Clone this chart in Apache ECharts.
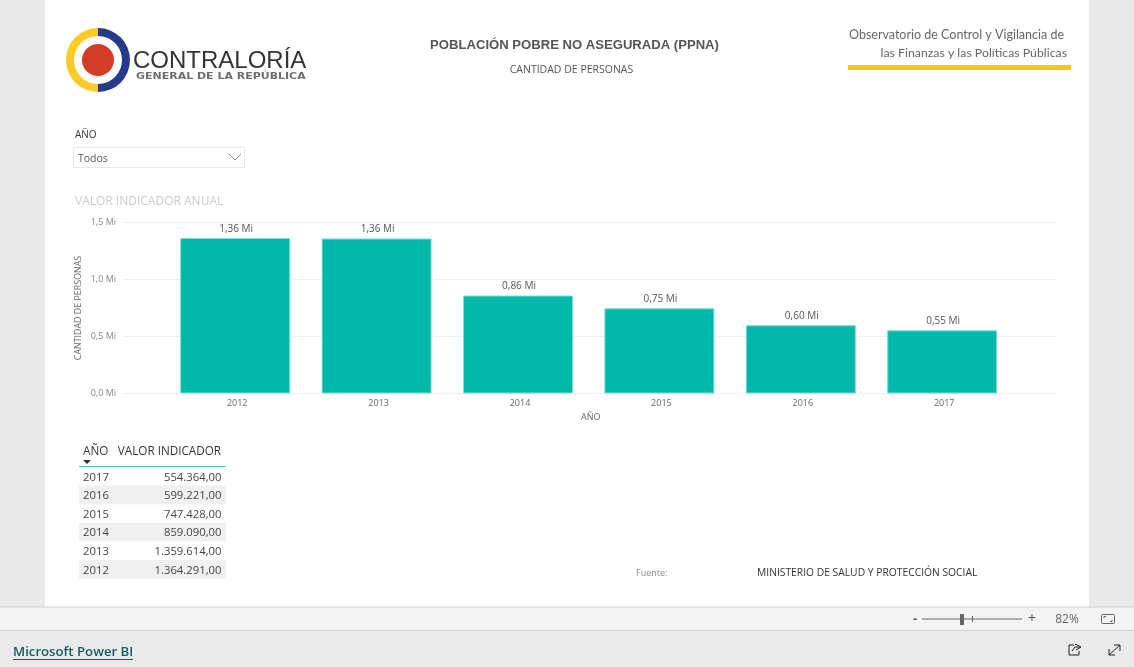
<!DOCTYPE html>
<html><head><meta charset="utf-8">
<style>html,body{margin:0;padding:0;background:#fff;overflow:hidden}#c{width:1134px;height:667px}</style>
<script src="https://cdn.jsdelivr.net/npm/echarts@6/dist/echarts.min.js"></script>
</head><body><div id="c"></div>
<script>
const years = ['2012','2013','2014','2015','2016','2017'];
const values = [1364291, 1359614, 859090, 747428, 599221, 554364];
const barLabels = ['1,36 Mi','1,36 Mi','0,86 Mi','0,75 Mi','0,60 Mi','0,55 Mi'];
const tableYears = ['2017','2016','2015','2014','2013','2012'];
const tableValues = ['554.364,00','599.221,00','747.428,00','859.090,00','1.359.614,00','1.364.291,00'];
const yTicks = {0:'0,0 Mi',500000:'0,5 Mi',1000000:'1,0 Mi',1500000:'1,5 Mi'};
const F = '"Open Sans","Noto Sans",sans-serif';

function T(x,y,text,size,fill,opt){
  return {type:'text',silent:true,x:x,y:y,z:5,style:Object.assign({text:text,font:size+'px '+F,fill:fill,textAlign:'left',textVerticalAlign:'middle'},opt||{})};
}
function R(x,y,w,h,fill,z){
  return {type:'rect',silent:true,z:z===undefined?1:z,shape:{x:x,y:y,width:w,height:h},style:{fill:fill}};
}
function P(points,color){
  return {type:'polyline',silent:true,z:3,shape:{points:points},style:{stroke:color,fill:'none',lineWidth:1}};
}
const g = [];
// page chrome
g.push(R(0,0,45,607,'#e9e9e9'), R(1089,0,45,607,'#e9e9e9'));
g.push(R(0,607,1134,23,'#f3f3f3'), R(0,606.5,1134,1,'#d2d2d2'), R(0,630,1134,37,'#eaeaea'), R(0,630,1134,1,'#cfcfcf'));
// logo
const cx=98, cy=60;
g.push({type:'sector',silent:true,z:2,shape:{cx:cx,cy:cy,r:32,r0:24,startAngle:Math.PI/2,endAngle:Math.PI*1.5},style:{fill:'#fdcb25'}});
g.push({type:'sector',silent:true,z:2,shape:{cx:cx,cy:cy,r:32,r0:24,startAngle:-Math.PI/2,endAngle:Math.PI/2},style:{fill:'#27398c'}});
g.push({type:'circle',silent:true,z:2,shape:{cx:cx,cy:cy,r:16},style:{fill:'#d33d27'}});
g.push(T(133,61,'CONTRALORÍA',24,'#333333',{font:'24px "Liberation Sans",sans-serif'}));
const sub = T(136,77,'GENERAL DE LA REPÚBLICA',9,'#6e6e6e',{font:'bold 9px "DejaVu Sans",sans-serif'});
sub.scaleX = 1.22;
g.push(sub);
// titles
g.push(T(574.5,45,'POBLACIÓN POBRE NO ASEGURADA (PPNA)',13,'#555555',{font:'bold 13.1px "Liberation Sans",sans-serif',textAlign:'center'}));
g.push(T(571.5,70,'CANTIDAD DE PERSONAS',10.5,'#555555',{textAlign:'center'}));
g.push(T(1064,35,'Observatorio de Control y Vigilancia de',12.5,'#666666',{font:'12.5px Lato,sans-serif',textAlign:'right'}));
g.push(T(1067,53,'las Finanzas y las Políticas Públicas',12.3,'#666666',{font:'12.3px Lato,sans-serif',textAlign:'right'}));
g.push(R(848,65,223,5,'#f2c811'));
// slicer
g.push(T(75,135,'AÑO',10,'#333333'));
g.push({type:'rect',silent:true,z:2,shape:{x:73.5,y:147.5,width:171,height:20},style:{fill:'#fff',stroke:'#e8e8e8',lineWidth:1}});
g.push(T(78,159,'Todos',10.5,'#555555'));
g.push(P([[229,154],[235,160],[241,154]],'#8a8a8a'));
g.push(T(75,202,'VALOR INDICADOR ANUAL',12,'#c8ccd0'));
// table
g.push(T(83,452,'AÑO',11.7,'#333333'));
g.push(T(221,452,'VALOR INDICADOR',11.7,'#333333',{textAlign:'right'}));
g.push({type:'polygon',silent:true,z:3,shape:{points:[[83,460],[91,460],[87,464]]},style:{fill:'#333333'}});
g.push(R(79,466,147,1,'#5cc4b8',3));
tableYears.forEach((y,i)=>{
  const top=467+i*18.6;
  if(i%2===1) g.push(R(79,top,147,18.6,'#f0f0f0',2));
  g.push(T(83,top+10.3,y,11.3,'#444444'));
  g.push(T(221.5,top+10.3,tableValues[i],11.3,'#444444',{textAlign:'right'}));
});
// source
g.push(T(636,573,'Fuente:',9,'#888888'));
g.push(T(757,573,'MINISTERIO DE SALUD Y PROTECCIÓN SOCIAL',10.3,'#333333'));
// status bar
g.push(T(915,619,'-',13,'#555555',{textAlign:'center',font:'bold 13px '+F}));
g.push(R(922,618.5,100,1,'#666666',3), R(960,614,4,11,'#666666',3), R(972,616,1,6,'#666666',3));
g.push(T(1032,619,'+',14,'#555555',{textAlign:'center'}));
g.push(T(1067,619.5,'82%',12,'#666666',{textAlign:'center'}));
g.push({type:'rect',silent:true,z:3,shape:{x:1101.5,y:614.5,width:13,height:9,r:1},style:{fill:'none',stroke:'#666666',lineWidth:1}});
g.push(P([[1104,618],[1104,616.5],[1106,616.5]],'#666666'), P([[1112,620],[1112,621.5],[1110,621.5]],'#666666'));
// footer
g.push(T(13,652,'Microsoft Power BI',13.2,'#0d5f63',{font:'600 13.2px '+F}));
g.push(R(13,659,120,1,'#0d5f63',3));
g.push(P([[1074,645],[1069,645],[1069,655],[1079,655],[1079,651]],'#222'));
g.push(P([[1072,651],[1075,647],[1080,647]],'#222'));
g.push(P([[1075,644],[1081,647],[1076,650]],'#222'));
g.push({type:'line',silent:true,z:3,shape:{x1:1109,y1:655,x2:1120,y2:645},style:{stroke:'#222',lineWidth:1}});
g.push(P([[1114,645],[1120,645],[1120,651]],'#222'));
g.push(P([[1109,649],[1109,655],[1115,655]],'#222'));

const chart = echarts.init(document.getElementById('c'),null,{renderer:'canvas'});
chart.setOption({
  animation:false,
  backgroundColor:'#ffffff',
  graphic:{elements:g},
  grid:[
    {left:123,top:222.5,width:933,height:171},
    {left:164.5,top:222.5,width:848.4,height:171}
  ],
  xAxis:[
    {gridIndex:0,type:'category',data:years,show:false},
    {gridIndex:1,type:'category',data:years,name:'AÑO',nameLocation:'middle',nameGap:19,
     nameTextStyle:{fontFamily:F,fontSize:9,color:'#666666',padding:[0,0,0,4]},
     axisLine:{show:false},axisTick:{show:false},
     axisLabel:{fontFamily:F,fontSize:9,color:'#666666',margin:5,padding:[0,0,0,4]}}
  ],
  yAxis:[
    {gridIndex:0,type:'value',min:0,max:1500000,interval:500000,
     name:'CANTIDAD DE PERSONAS',nameLocation:'middle',nameGap:45,nameMoveOverlap:false,
     nameTextStyle:{fontFamily:F,fontSize:8.9,color:'#666666',verticalAlign:'middle'},
     axisLine:{show:false},axisTick:{show:false},
     axisLabel:{fontFamily:F,fontSize:9,color:'#888888',margin:7,padding:[4,0,0,0],formatter:v=>yTicks[v]},
     splitLine:{lineStyle:{color:'#efefef',width:1}}},
    {gridIndex:1,type:'value',min:0,max:1500000,interval:500000,show:false,splitLine:{show:false}}
  ],
  series:[{
    type:'bar',xAxisIndex:1,yAxisIndex:1,data:values,barWidth:110,
    itemStyle:{color:'#01b8aa',borderColor:'#7fdcd4',borderWidth:1},
    label:{show:true,position:'top',distance:4,fontFamily:F,fontSize:10,color:'#555555',offset:[1,0],
      formatter:p=>barLabels[p.dataIndex]}
  }]
});
</script></body></html>
